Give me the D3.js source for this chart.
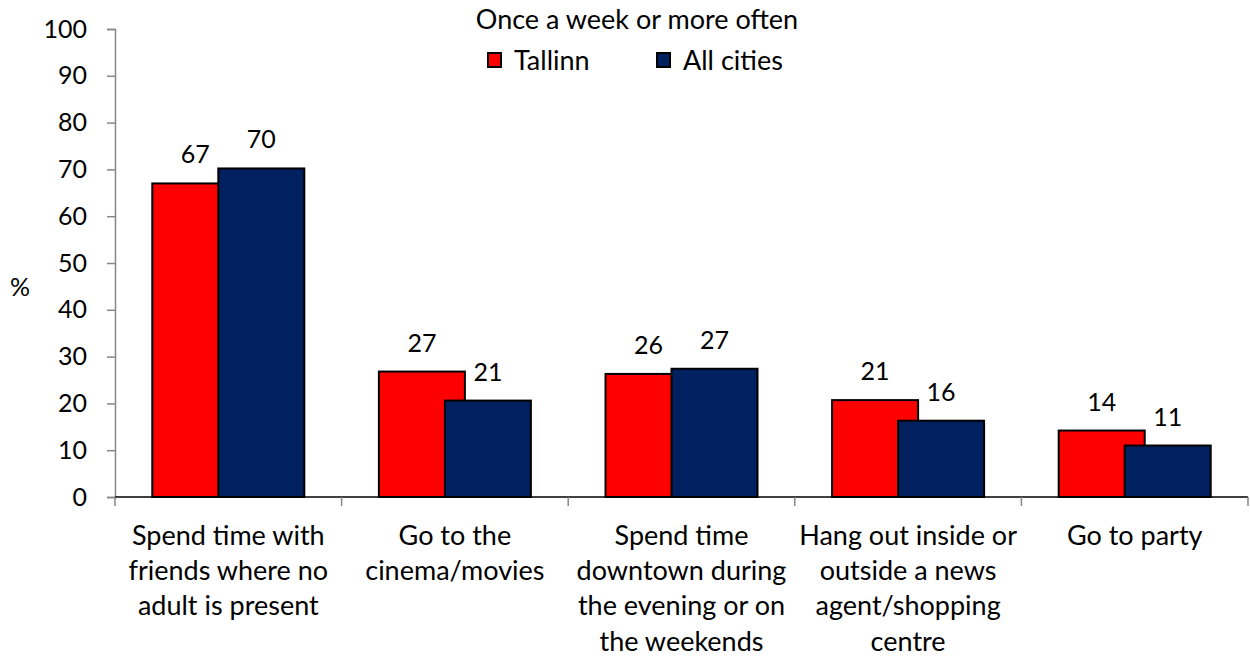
<!DOCTYPE html>
<html><head><meta charset="utf-8">
<script src="https://cdn.jsdelivr.net/npm/d3@7"></script>
<style>body{margin:0;background:#fff}svg{display:block}text{font-family:Lato,"Open Sans",sans-serif;fill:#000}</style>
</head><body>
<svg id="c" width="1250" height="656"></svg>
<script>
const categories = [
  ["Spend time with","friends where no","adult is present"],
  ["Go to the","cinema/movies"],
  ["Spend time","downtown during","the evening or on","the weekends"],
  ["Hang out inside or","outside a news","agent/shopping","centre"],
  ["Go to party"]
];
const seriesNames = ["Tallinn","All cities"];
const tallinn = [67, 26.8, 26.3, 20.7, 14.2];
const allCities = [70.2, 20.6, 27.4, 16.3, 11.0];
const yTicks = [0,10,20,30,40,50,60,70,80,90,100];
const colors = ["#FF0000","#002060"];
const title = "Once a week or more often";
const yLabel = "%";

(function(){
const svg = d3.select("#c");
const mLeft = 115, mRight = 1248, mTop = 29, mBottom = 497;
const x = d3.scaleBand().domain(d3.range(categories.length)).range([mLeft,mRight]).paddingInner(0).paddingOuter(0);
const y = d3.scaleLinear().domain([0,100]).range([mBottom,mTop]);
const fs = 27, fn = 25;

const yAxis = d3.axisLeft(y).tickValues(yTicks).tickSize(8).tickPadding(20);
const gy = svg.append("g").attr("transform",`translate(${mLeft},0)`).call(yAxis);
gy.select(".domain").attr("stroke","#868686").attr("stroke-width",1.5);
gy.selectAll(".tick line").attr("stroke","#868686").attr("stroke-width",1.5);
gy.selectAll(".tick text").attr("font-size",fn).attr("font-family","Lato").attr("fill","#000");

svg.append("text").attr("x",20).attr("y",290).attr("text-anchor","middle").attr("dominant-baseline","middle").attr("font-size",fn).text(yLabel);

const bw = 86, step = 66;
const groupW = step + bw;
const series = [tallinn, allCities];
series.forEach((vals,si)=>{
  svg.append("g").selectAll("rect").data(vals).join("rect")
    .attr("x",(d,i)=> x(i) + x.bandwidth()/2 - groupW/2 + si*step)
    .attr("y",d=>y(d))
    .attr("width",bw)
    .attr("height",d=>y(0)-y(d))
    .attr("fill",colors[si]).attr("stroke","#000").attr("stroke-width",2);
});
series.forEach((vals,si)=>{
  svg.append("g").selectAll("text").data(vals).join("text")
    .attr("x",(d,i)=> x(i) + x.bandwidth()/2 - groupW/2 + si*step + bw/2)
    .attr("y",d=>y(d)-20)
    .attr("text-anchor","middle").attr("font-size",fn)
    .text(d=>d3.format(".0f")(d));
});

const gx = svg.append("g").attr("transform",`translate(0,${mBottom})`);
gx.append("line").attr("x1",mLeft).attr("x2",mRight).attr("y1",0).attr("y2",0).attr("stroke","#000").attr("stroke-width",1.5);
const bounds = d3.range(categories.length+1).map(i=> i<categories.length ? x(i) : mRight);
gx.selectAll("line.t").data(bounds).join("line").attr("class","t")
  .attr("x1",d=>d).attr("x2",d=>d).attr("y1",0).attr("y2",9).attr("stroke","#868686").attr("stroke-width",1.5);

const cl = svg.append("g");
categories.forEach((lines,i)=>{
  const cx = x(i)+x.bandwidth()/2;
  const t = cl.append("text").attr("text-anchor","middle").attr("font-size",fs).attr("x",cx).attr("y",545);
  lines.forEach((ln,j)=> t.append("tspan").attr("x",cx).attr("dy", j===0?0:35.2).text(ln));
});

svg.append("text").attr("x",637).attr("y",29).attr("text-anchor","middle").attr("font-size",fs).text(title);
const legX = [488, 657];
seriesNames.forEach((n,i)=>{
  svg.append("rect").attr("x",legX[i]).attr("y",53).attr("width",13).attr("height",14).attr("fill",colors[i]).attr("stroke","#000").attr("stroke-width",2);
  svg.append("text").attr("x",legX[i]+26).attr("y",70).attr("font-size",fs).text(n);
});
})();
</script>
</body></html>
